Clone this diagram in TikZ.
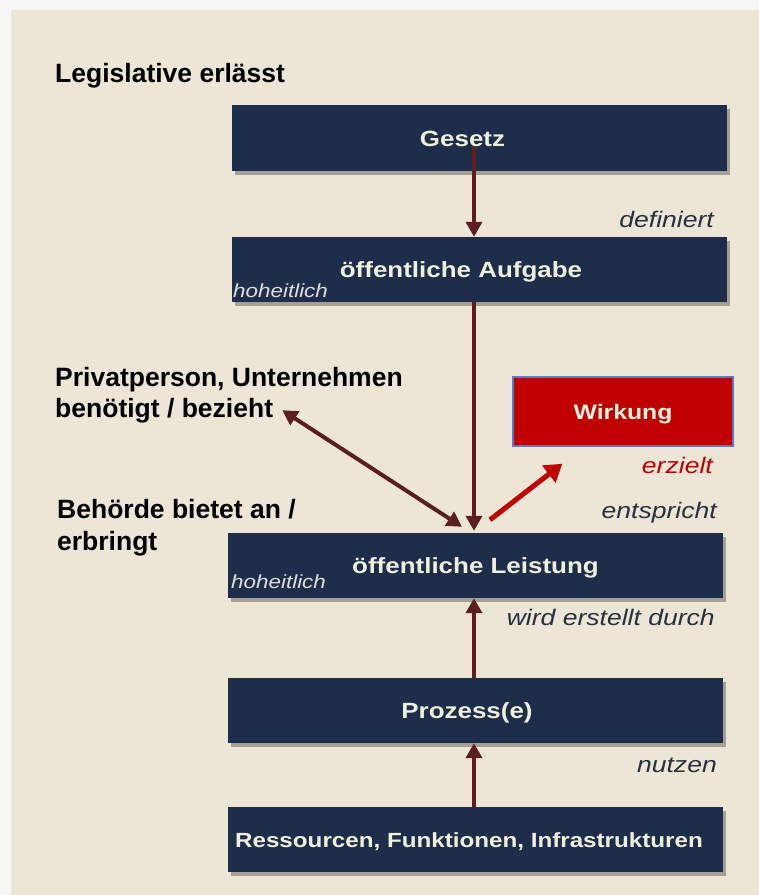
\documentclass[tikz,border=0pt]{standalone}
\usepackage{fontspec}
\setmainfont{Liberation Sans}
\newfontfamily\widefont[FakeStretch=1.18]{Liberation Sans}
\usetikzlibrary{arrows.meta,shadows}

\definecolor{paper}{RGB}{237,230,214}
\definecolor{framegray}{RGB}{246,246,246}
\definecolor{navy}{RGB}{30,45,74}
\definecolor{cream}{RGB}{240,240,222}
\definecolor{arrowbrown}{RGB}{92,30,30}
\definecolor{effred}{RGB}{192,0,0}
\definecolor{wirkborder}{RGB}{79,129,189}
\definecolor{slate}{RGB}{38,48,64}
\definecolor{softgray}{RGB}{222,222,222}

\tikzset{
  box/.style={fill=navy, text=cream, minimum width=495pt, minimum height=66pt,
    inner sep=0pt, text height=16pt, text depth=0pt,
    font=\widefont\bfseries\fontsize{22}{26}\selectfont,
    drop shadow={shadow xshift=3pt, shadow yshift=-4pt, opacity=.3, fill=black}},
  wirkbox/.style={fill=effred, draw=wirkborder, line width=1.5pt, text=cream,
    minimum width=220pt, minimum height=69pt, inner sep=0pt,
    text height=16pt, text depth=0pt,
    font=\widefont\bfseries\fontsize{21}{25}\selectfont},
  lefttext/.style={anchor=base west, inner sep=0pt,
    font=\bfseries\fontsize{26.5}{31}\selectfont},
  verbtext/.style={anchor=base east, inner sep=0pt, text=slate,
    font=\widefont\itshape\fontsize{22.5}{27}\selectfont},
  hoheit/.style={anchor=base west, inner sep=0pt, text=softgray,
    font=\widefont\itshape\fontsize{19}{23}\selectfont},
  flow/.style={draw=arrowbrown, line width=4pt, -{Triangle[length=15pt,width=16pt]}},
  flowboth/.style={draw=arrowbrown, line width=4pt,
    {Triangle[length=15pt,width=16pt]}-{Triangle[length=15pt,width=16pt]}},
  effect/.style={draw=effred, line width=5pt, -{Triangle[length=17pt,width=21pt]}}
}

\begin{document}
\begin{tikzpicture}[x=1pt,y=-1pt]
  \fill[framegray] (0,0) rectangle (759,895);
  \fill[paper] (11,10) rectangle (759,895);
  \useasboundingbox (0,0) rectangle (759,895);

  % Kaesten
  \node[box] (gesetz) at (479.5,138) {Gesetz\hspace*{34pt}};
  \node[box, minimum height=65pt] (aufgabe) at (479.5,269.5) {öffentliche Aufgabe\hspace*{37pt}};
  \node[wirkbox] (wirkung) at (623,411.5) {Wirkung};
  \node[box, minimum height=65pt] (leistung) at (475.5,565.5) {öffentliche Leistung};
  \node[box, minimum height=65pt] (prozess) at (475.5,710.5) {Prozess(e)\hspace*{17pt}};
  \node[box, minimum height=65pt, font=\widefont\bfseries\fontsize{20.5}{24}\selectfont]
    (ressourcen) at (475.5,839.5) {Ressourcen, Funktionen, Infrastrukturen\hspace*{13pt}};

  \node[hoheit] (hoheitA) at (233,297) {hoheitlich};
  \node[hoheit] (hoheitL) at (231,588) {hoheitlich};

  % Akteure links
  \node[lefttext] (legislative) at (55,82) {Legislative erlässt};
  \node[lefttext] (privat) at (55,386) {Privatperson, Unternehmen};
  \node[lefttext] (bezieht) at (55,417) {benötigt / bezieht};
  \node[lefttext] (behoerde) at (57,518) {Behörde bietet an /};
  \node[lefttext] (erbringt) at (57,550) {erbringt};

  % Verben rechts
  \node[verbtext] (definiert) at (714,227) {definiert};
  \node[verbtext, text=effred] (erzielt) at (713,473) {erzielt};
  \node[verbtext] (entspricht) at (717,518) {entspricht};
  \node[verbtext] (erstellt) at (715,625) {wird erstellt durch};
  \node[verbtext] (nutzen) at (717,772) {nutzen};

  % Pfeile
  \draw[flow] ([xshift=-5.5pt,yshift=24pt]gesetz.south) -- ([xshift=-5.5pt]aufgabe.north);
  \draw[flow] ([xshift=-5.5pt]aufgabe.south) -- ([xshift=-1.5pt,yshift=2pt]leistung.north);
  \draw[flowboth] ([xshift=9pt]bezieht.east) -- ([xshift=-13.5pt,yshift=6pt]leistung.north);
  \draw[effect] ([xshift=14.5pt,yshift=13pt]leistung.north) -- ([xshift=50pt,yshift=-17pt]wirkung.south west);
  \draw[flow] ([xshift=-1.5pt]prozess.north) -- ([xshift=-1.5pt]leistung.south);
  \draw[flow] ([xshift=-1.5pt]ressourcen.north) -- ([xshift=-1.5pt]prozess.south);
\end{tikzpicture}
\end{document}
